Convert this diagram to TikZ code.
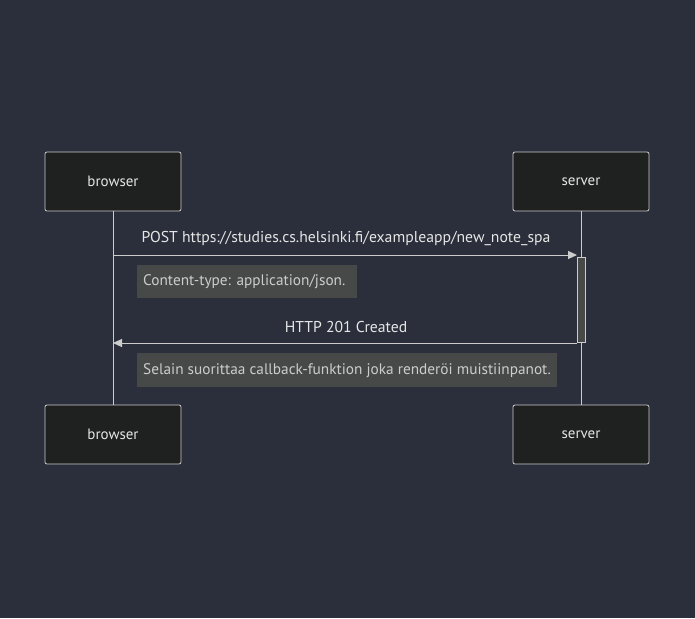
\documentclass[tikz,border=0pt]{standalone}
\usepackage{fontspec}
\setmainfont{PT Sans}
\usetikzlibrary{arrows.meta}
\definecolor{bg}{HTML}{2A2F3B}
\definecolor{actorfill}{HTML}{1F2020}
\definecolor{linecol}{HTML}{CCCCCC}
\definecolor{txt}{HTML}{E6E6E6}
\definecolor{notefill}{HTML}{474949}
\definecolor{notetxt}{HTML}{CCCCCC}
\definecolor{actfill}{HTML}{474949}
\tikzset{
  actor/.style={draw=linecol, fill=actorfill, rounded corners=2pt, line width=0.8pt,
    minimum width=136pt, minimum height=59pt, text=txt, font=\fontsize{15}{17}\selectfont, inner sep=0pt},
  lifeline/.style={draw=linecol, line width=1pt},
  msg/.style={draw=linecol, line width=1pt, -{Triangle[length=9pt,width=8pt]}},
  msglabel/.style={text=txt, font=\fontsize{15.7}{18}\selectfont, inner sep=0pt},
  notebox/.style={fill=notefill, draw=none, anchor=north west, inner sep=0pt},
  notetext/.style={text=notetxt, font=\fontsize{15.3}{18}\selectfont, inner sep=0pt, anchor=west}
}
\begin{document}
\begin{tikzpicture}[x=1pt,y=-1pt]
\fill[bg] (0,0) rectangle (695,618);
\useasboundingbox (0,0) rectangle (695,618);
\node[actor] (bt) at (113,181.5) {browser};
\node[actor] (st) at (581,181.5) {server};
\node[actor] (bb) at (113,434.5) {browser};
\node[actor] (sb) at (581,434.5) {server};
\draw[lifeline] (bt.south) -- (bb.north);
\draw[lifeline] (st.south) -- (sb.north);
\node[draw=linecol, fill=actfill, line width=0.8pt, minimum width=8pt, minimum height=85pt, inner sep=0pt] (act) at (581,299.5) {};
\coordinate (m1s) at (113,255);
\coordinate (m1e) at (577,255);
\coordinate (m2e) at (113,343);
\draw[msg] (m1s) -- (m1e);
\node[msglabel] (l1) at (346,239) {POST https://studies.cs.helsinki.fi/exampleapp/new\_note\_spa};
\node[notebox, minimum width=220pt, minimum height=33pt] (n1) at (137,265) {};
\node[notetext] (n1t) at (143,282) {Content-type: application/json.};
\draw[msg] (act.south west |- 0,343) -- (m2e);
\node[msglabel] (l2) at (346,327) {HTTP 201 Created};
\node[notebox, minimum width=420pt, minimum height=34pt] (n2) at (137,353) {};
\node[notetext] (n2t) at (143,370.5) {Selain suorittaa callback-funktion joka renderöi muistiinpanot.};
\end{tikzpicture}
\end{document}
